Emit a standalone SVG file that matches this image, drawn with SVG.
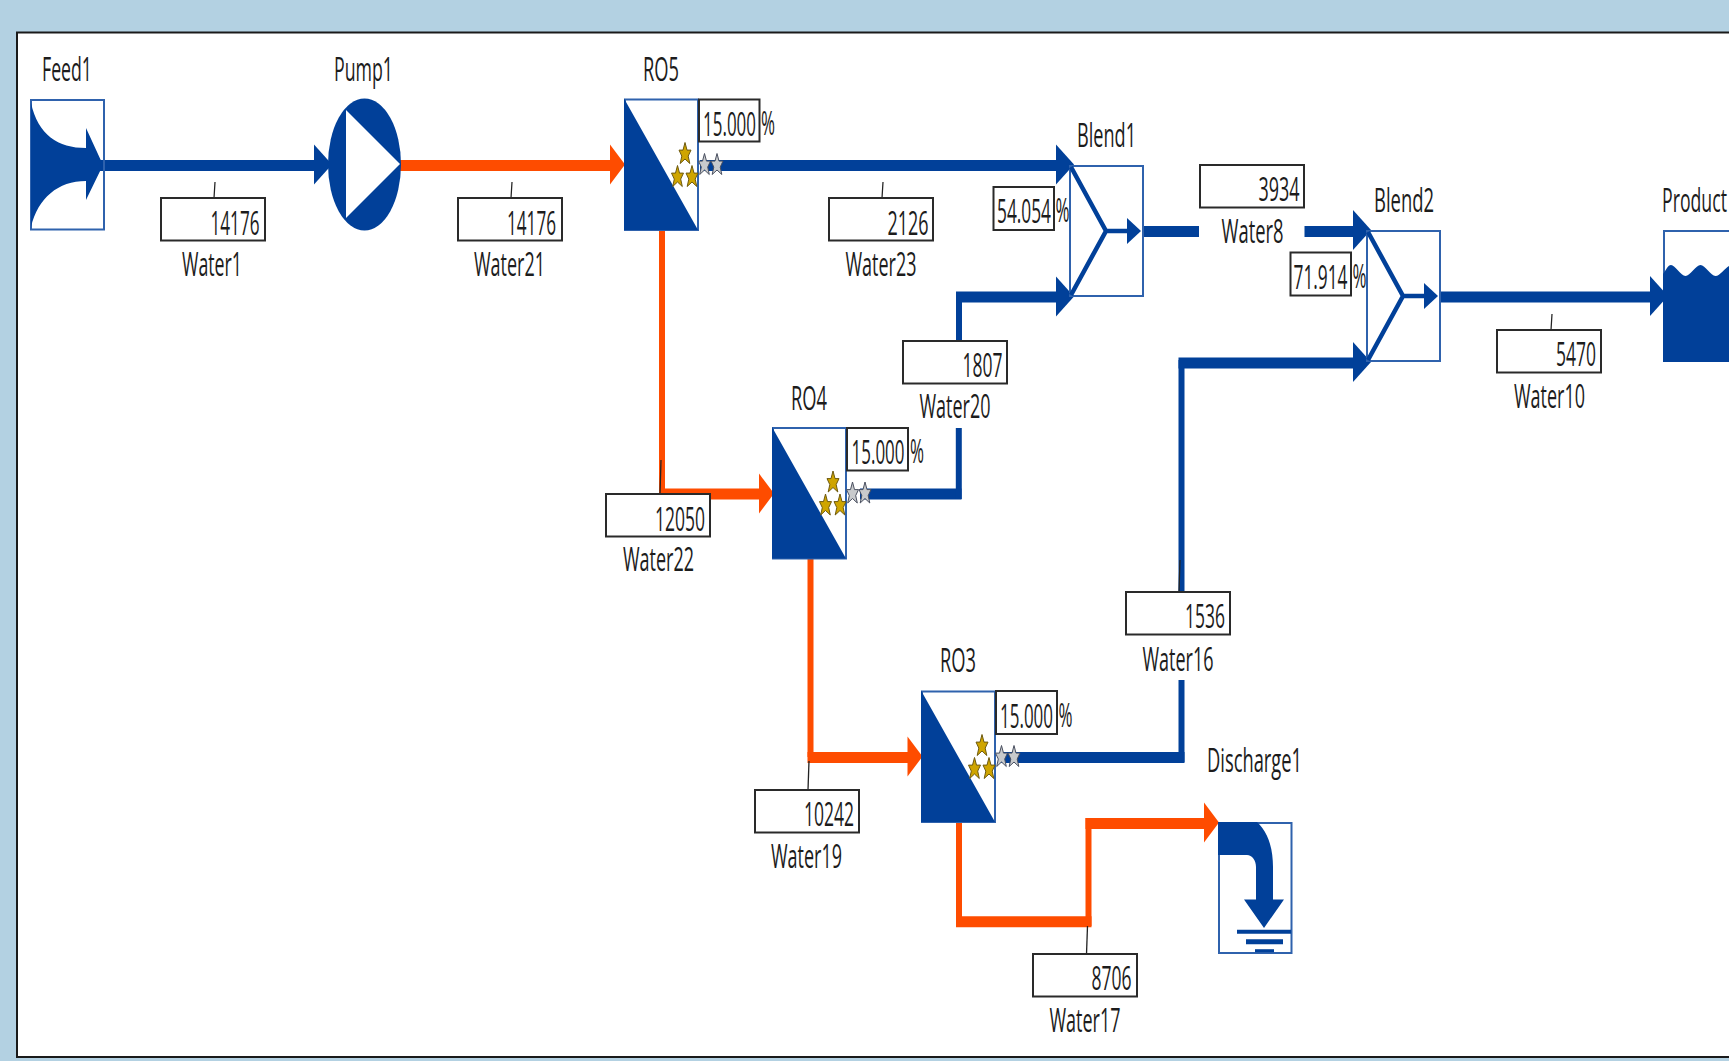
<svg xmlns="http://www.w3.org/2000/svg" width="1729" height="1061" viewBox="0 0 1729 1061">
<style>
text{font-family:"Open Sans","Noto Sans","Liberation Sans",sans-serif;font-size:32px;fill:#1c1c1c}
.box{fill:#fff;stroke:#2a2a2a;stroke-width:2}
.lead{fill:none;stroke:#222;stroke-width:1.3}
.b{fill:none;stroke:#014099;stroke-width:11}
.bt{fill:none;stroke:#014099;stroke-width:6}
.o{fill:none;stroke:#fe4c00;stroke-width:11}
.ot{fill:none;stroke:#fe4c00;stroke-width:6}
.bf{fill:#014099}
.of{fill:#fe4c00}
.fr{fill:none;stroke:#2f62ad;stroke-width:2}
.gold{fill:#cfa500;stroke:#6e5a10;stroke-width:1}
.grey{fill:#c8cacc;stroke:#4a5060;stroke-width:1}
</style>
<defs>
<polygon id="star" points="0,-11 2,-3.4 6,-3.4 3.2,2.6 4.8,10 0,5.5 -4.800,10 -3.2,2.6 -6,-3.4 -2,-3.4"/>
<g id="ro">
<rect class="fr" x="0" y="0" width="73" height="130.500"/>
<polygon class="bf" points="-1,-1 73,130.500 -1,130.500"/>
<use href="#star" class="gold" x="60" y="54"/>
<use href="#star" class="gold" x="52.500" y="77"/>
<use href="#star" class="gold" x="67" y="77"/>
<use href="#star" class="grey" x="79.500" y="65"/>
<use href="#star" class="grey" x="92" y="65"/>
</g>
<g id="blend">
<rect class="fr" x="0" y="0" width="73" height="130"/>
<path d="M1 1L36 65L1 129M36 65H62" fill="none" stroke="#014099" stroke-width="4.5"/>
<polygon class="bf" points="57,52 71,65 57,78"/>
</g>
<polygon id="ab" class="bf" points="0,-20 18,0 0,20"/>
<polygon id="ao" class="of" points="0,-20 15,0 0,20"/>
</defs>
<rect width="1729" height="1061" fill="#b3d1e2"/>
<rect x="17" y="32.500" width="1730" height="1024.500" fill="#fff" stroke="#1a1a1a" stroke-width="2"/>

<g id="connectors">
<path class="b" d="M100 165.500H318"/>
<use href="#ab" x="314" y="164.500"/>
<path class="o" d="M400 165.500H613"/>
<use href="#ao" x="610" y="164.500"/>
<path class="b" d="M700 165.500H1060"/>
<use href="#ab" x="1056" y="164.500"/>
<path class="bt" d="M959 341V297"/>
<path class="b" d="M956 297H1060"/>
<use href="#ab" x="1056" y="296.500"/>
<path class="b" d="M860 494H961.500"/>
<path class="bt" d="M958.800 499V428"/>
<path class="ot" d="M662 230V494"/>
<path class="o" d="M659 494H764"/>
<use href="#ao" x="759" y="493.500"/>
<path class="ot" d="M810.500 559V757"/>
<path class="o" d="M807.500 757.500H912"/>
<use href="#ao" x="907.500" y="756.500"/>
<path class="b" d="M1000 757.500H1184.500"/>
<path class="bt" d="M1181.500 762V680"/>
<path class="bt" d="M1181.500 592V360"/>
<path class="b" d="M1178.500 363H1358"/>
<use href="#ab" x="1353" y="362"/>
<path class="b" d="M1143 231.500H1199"/>
<path class="b" d="M1304.500 231.500H1358"/>
<use href="#ab" x="1353" y="230"/>
<path class="b" d="M1441 297H1655"/>
<use href="#ab" x="1650" y="296"/>
<path class="ot" d="M959 822V926"/>
<path class="o" d="M956 921.700H1091.500"/>
<path class="ot" d="M1088.500 926V818"/>
<path class="o" d="M1085.500 823.500H1208"/>
<use href="#ao" x="1204" y="822.500"/>
</g>

<g id="Feed1">
<text x="42" y="81" textLength="50" lengthAdjust="spacingAndGlyphs">Feed1</text>
<rect class="fr" x="31" y="100" width="73" height="129.500"/>
<path class="bf" d="M31 103C38 135 58 148 86 148V128L103 165L86 200V181C58 181 38 198 31 227Z"/>
</g>
<g id="Pump1">
<text x="334" y="81" textLength="59" lengthAdjust="spacingAndGlyphs">Pump1</text>
<ellipse class="bf" cx="364.500" cy="164.500" rx="36.500" ry="66"/>
<polygon points="346,110 400,164 346,218" fill="#fff"/>
</g>
<g id="RO5">
<text x="643" y="81" textLength="36" lengthAdjust="spacingAndGlyphs">RO5</text>
<use href="#ro" x="625" y="99.500"/>
<rect class="box" x="699" y="99.500" width="60.500" height="42"/>
<text x="703" y="136" textLength="53" lengthAdjust="spacingAndGlyphs">15.000</text>
<text x="761" y="135" textLength="14" lengthAdjust="spacingAndGlyphs">%</text>
</g>
<g id="RO4">
<text x="791" y="410" textLength="36" lengthAdjust="spacingAndGlyphs">RO4</text>
<use href="#ro" x="773" y="428"/>
<rect class="box" x="847" y="428" width="61" height="42.500"/>
<text x="851.500" y="464" textLength="53" lengthAdjust="spacingAndGlyphs">15.000</text>
<text x="910" y="463" textLength="14" lengthAdjust="spacingAndGlyphs">%</text>
</g>
<g id="RO3">
<text x="940" y="672" textLength="36" lengthAdjust="spacingAndGlyphs">RO3</text>
<use href="#ro" x="922" y="691.500"/>
<rect class="box" x="996" y="691" width="61" height="43"/>
<text x="1000" y="728" textLength="53" lengthAdjust="spacingAndGlyphs">15.000</text>
<text x="1058.500" y="727" textLength="14" lengthAdjust="spacingAndGlyphs">%</text>
</g>
<g id="Blend1">
<text x="1077" y="146.500" textLength="59" lengthAdjust="spacingAndGlyphs">Blend1</text>
<use href="#blend" x="1070" y="166"/>
<rect class="box" x="993.500" y="187" width="60.500" height="43"/>
<text x="997" y="223" textLength="54" lengthAdjust="spacingAndGlyphs">54.054</text>
<text x="1055.500" y="222" textLength="14" lengthAdjust="spacingAndGlyphs">%</text>
</g>
<g id="Blend2">
<text x="1374" y="212" textLength="60" lengthAdjust="spacingAndGlyphs">Blend2</text>
<use href="#blend" x="1367" y="231"/>
<rect class="box" x="1290.500" y="252.500" width="60.500" height="43"/>
<text x="1293.500" y="289" textLength="54" lengthAdjust="spacingAndGlyphs">71.914</text>
<text x="1352.500" y="288" textLength="14" lengthAdjust="spacingAndGlyphs">%</text>
</g>
<g id="Product">
<text x="1662" y="212" textLength="65" lengthAdjust="spacingAndGlyphs">Product</text>
<rect class="fr" x="1664" y="231" width="80" height="130"/>
<path class="bf" d="M1663 274C1666 270 1668 265 1671 265C1675 265 1681 276 1685.500 276C1690 276 1696 265 1700.500 265C1705 265 1711 276 1715.500 276C1720 276 1725 268 1729 266V362H1663Z"/>
</g>
<g id="Discharge1">
<text x="1207" y="771.500" textLength="95" lengthAdjust="spacingAndGlyphs">Discharge1</text>
<rect class="fr" x="1219" y="823" width="72.500" height="130"/>
<path class="bf" d="M1218 822H1257C1268 832 1273 848 1273 867V899.500H1284L1264 928L1244 899.500H1256V867C1256 860 1252 855 1247 855H1218Z"/>
<path d="M1237 931.700H1291" stroke="#014099" stroke-width="4" fill="none"/>
<path d="M1246 941.700H1283" stroke="#014099" stroke-width="5" fill="none"/>
<path d="M1255 950.700H1274" stroke="#014099" stroke-width="3" fill="none"/>
</g>

<g id="Water1"><path class="lead" d="M215 182L214 198"/><rect class="box" x="161" y="198" width="104" height="42.500"/><text x="210.500" y="234.500" textLength="49" lengthAdjust="spacingAndGlyphs">14176</text><text x="182" y="275.500" textLength="60" lengthAdjust="spacingAndGlyphs">Water1</text></g>
<g id="Water21"><path class="lead" d="M512 182L511 198"/><rect class="box" x="458" y="198" width="104" height="42.500"/><text x="507" y="234.500" textLength="49" lengthAdjust="spacingAndGlyphs">14176</text><text x="474" y="275.500" textLength="71" lengthAdjust="spacingAndGlyphs">Water21</text></g>
<g id="Water23"><path class="lead" d="M883 182L882 198"/><rect class="box" x="829" y="198" width="104" height="42.500"/><text x="887.500" y="234.500" textLength="41" lengthAdjust="spacingAndGlyphs">2126</text><text x="845.500" y="275.500" textLength="71" lengthAdjust="spacingAndGlyphs">Water23</text></g>
<g id="Water20"><rect class="box" x="903" y="341" width="104" height="42.500"/><text x="962.500" y="377" textLength="40" lengthAdjust="spacingAndGlyphs">1807</text><text x="919.500" y="418" textLength="71" lengthAdjust="spacingAndGlyphs">Water20</text></g>
<g id="Water8"><rect class="box" x="1200" y="165" width="104" height="42.500"/><text x="1258.500" y="201" textLength="41" lengthAdjust="spacingAndGlyphs">3934</text><text x="1221.500" y="242.500" textLength="62" lengthAdjust="spacingAndGlyphs">Water8</text></g>
<g id="Water10"><path class="lead" d="M1552 314L1551 330"/><rect class="box" x="1497" y="330" width="104" height="42.500"/><text x="1556" y="366" textLength="40" lengthAdjust="spacingAndGlyphs">5470</text><text x="1514" y="407.500" textLength="71" lengthAdjust="spacingAndGlyphs">Water10</text></g>
<g id="Water22"><path class="lead" d="M661 460L660 494"/><rect class="box" x="606" y="494" width="104" height="42.500"/><text x="655" y="530.500" textLength="50" lengthAdjust="spacingAndGlyphs">12050</text><text x="623" y="571" textLength="71" lengthAdjust="spacingAndGlyphs">Water22</text></g>
<g id="Water19"><path class="lead" d="M809 761L808 790"/><rect class="box" x="755" y="790" width="104" height="42.500"/><text x="804" y="826" textLength="50" lengthAdjust="spacingAndGlyphs">10242</text><text x="771" y="867.500" textLength="71" lengthAdjust="spacingAndGlyphs">Water19</text></g>
<g id="Water16"><path class="lead" d="M1180 560L1179 592"/><rect class="box" x="1126" y="592" width="104" height="42.500"/><text x="1185" y="628" textLength="40" lengthAdjust="spacingAndGlyphs">1536</text><text x="1142.500" y="670.500" textLength="71" lengthAdjust="spacingAndGlyphs">Water16</text></g>
<g id="Water17"><path class="lead" d="M1087.500 926L1086.500 954"/><rect class="box" x="1033" y="954" width="104" height="42.500"/><text x="1091.500" y="990" textLength="40" lengthAdjust="spacingAndGlyphs">8706</text><text x="1049.500" y="1032" textLength="71" lengthAdjust="spacingAndGlyphs">Water17</text></g>
</svg>
